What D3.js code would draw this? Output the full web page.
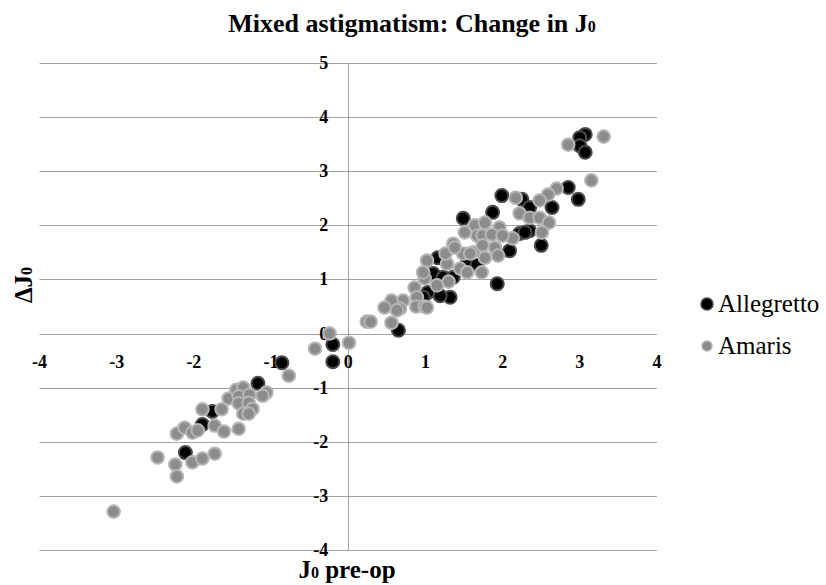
<!DOCTYPE html>
<html>
<head>
<meta charset="utf-8">
<script src="https://cdn.jsdelivr.net/npm/d3@7"></script>
<style>
  html, body { margin: 0; padding: 0; background: #fff; }
  svg { display: block; }
</style>
</head>
<body>
<svg id="chart" width="826" height="585" font-family="'Liberation Serif', 'Times New Roman', Times, serif"></svg>
<script>
// ---- Data ----
const seriesNames = ["Allegretto", "Amaris"];
const xTicks = [-4, -3, -2, -1, 0, 1, 2, 3, 4];
const yTicks = [-4, -3, -2, -1, 0, 1, 2, 3, 4, 5];

const allegretto = [
  [3.07, 3.68], [3.00, 3.62], [3.00, 3.47], [3.07, 3.35], [2.85, 2.70],
  [2.98, 2.48], [2.64, 2.33], [1.99, 2.55], [2.25, 2.48], [2.35, 2.33],
  [1.87, 2.24], [1.49, 2.13], [2.35, 1.90], [2.22, 1.85], [2.50, 1.63],
  [2.09, 1.53], [1.93, 0.92], [1.16, 1.40], [1.55, 1.33], [1.67, 1.28],
  [1.10, 1.11], [1.23, 1.04], [1.32, 0.67], [1.19, 0.70], [1.03, 0.76],
  [0.97, 0.67], [0.65, 0.06], [-0.20, -0.20], [-0.20, -0.52], [-0.86, -0.54],
  [-1.17, -0.92], [-1.32, -1.13], [-1.76, -1.44], [-1.89, -1.68], [-2.11, -2.20],
  [1.36, 1.04], [2.29, 1.87]
];

const amaris = [
  [2.85, 3.49], [3.31, 3.64], [3.15, 2.83], [2.70, 2.68], [2.59, 2.57],
  [2.48, 2.46], [2.17, 2.51], [2.22, 2.22], [2.35, 2.14], [2.48, 2.14],
  [2.60, 2.05], [2.51, 1.87], [2.13, 1.76], [1.51, 1.87], [1.64, 2.00],
  [1.77, 2.05], [1.96, 1.96], [1.67, 1.81], [1.74, 1.81], [1.86, 1.83],
  [2.00, 1.81], [1.36, 1.66], [1.49, 1.48], [1.62, 1.50], [1.74, 1.63],
  [1.90, 1.59], [1.77, 1.40], [1.94, 1.44], [1.28, 1.29], [1.45, 1.20],
  [1.73, 1.13], [1.54, 1.13], [1.30, 0.96], [1.15, 0.89], [0.99, 1.02],
  [1.02, 1.35], [0.97, 1.13], [0.86, 0.85], [0.89, 0.67], [0.88, 0.50],
  [0.99, 0.50], [0.71, 0.61], [0.67, 0.46], [0.56, 0.61], [0.47, 0.48],
  [0.63, 0.43], [0.56, 0.20], [0.24, 0.22], [0.29, 0.22], [1.26, 1.48],
  [1.38, 1.59], [1.58, 1.48], [1.02, 0.48], [-0.24, 0.00], [-0.43, -0.28],
  [0.01, -0.17], [-0.77, -0.78], [-1.55, -1.20], [-1.45, -1.04], [-1.36, -1.00],
  [-1.42, -1.16], [-1.28, -1.13], [-1.06, -1.09], [-1.11, -1.15], [-1.42, -1.29],
  [-1.29, -1.28], [-1.24, -1.39], [-1.36, -1.48], [-1.29, -1.48], [-1.42, -1.76],
  [-1.89, -1.40], [-1.64, -1.40], [-2.22, -1.85], [-2.12, -1.74], [-2.02, -1.83],
  [-1.95, -1.79], [-1.73, -1.70], [-1.61, -1.81], [-2.47, -2.29], [-2.24, -2.42],
  [-2.22, -2.64], [-2.02, -2.38], [-1.89, -2.31], [-1.73, -2.22], [-3.04, -3.29]
];

// ---- Layout ----
const svg = d3.select("#chart");
const x = d3.scaleLinear().domain([-4, 4]).range([39.5, 657]);
const y = d3.scaleLinear().domain([-4, 5]).range([550, 63]);

const gridColor = "#a3a3a3";

// horizontal gridlines
svg.append("g").selectAll("line").data(yTicks).join("line")
  .attr("x1", x(-4)).attr("x2", x(4))
  .attr("y1", d => Math.round(y(d)) + 0.5).attr("y2", d => Math.round(y(d)) + 0.5)
  .attr("stroke", gridColor).attr("stroke-width", 1);

// vertical axis line at x = 0
svg.append("line")
  .attr("x1", Math.round(x(0)) + 0.5).attr("x2", Math.round(x(0)) + 0.5)
  .attr("y1", y(5)).attr("y2", y(-4))
  .attr("stroke", gridColor).attr("stroke-width", 1);

// y tick labels
svg.append("g").selectAll("text").data(yTicks).join("text")
  .attr("x", x(0) - 20).attr("y", d => y(d) + 6)
  .attr("text-anchor", "end")
  .attr("font-size", 18).attr("font-weight", "bold")
  .text(d => d);

// x tick labels
svg.append("g").selectAll("text").data(xTicks).join("text")
  .attr("x", d => x(d)).attr("y", y(0) + 34)
  .attr("text-anchor", "middle")
  .attr("font-size", 18).attr("font-weight", "bold")
  .text(d => d);

// points
const styles = [
  { fill: "#000000", stroke: "#4a4a4a", r: 6.5 },
  { fill: "#8c8c8c", stroke: "#b5b5b5", r: 6.3 }
];
[allegretto, amaris].forEach((data, i) => {
  svg.append("g").selectAll("circle").data(data).join("circle")
    .attr("cx", d => x(d[0])).attr("cy", d => y(d[1]))
    .attr("r", styles[i].r)
    .attr("fill", styles[i].fill)
    .attr("stroke", styles[i].stroke)
    .attr("stroke-width", 2);
});

// title
const title = svg.append("text")
  .attr("x", 412).attr("y", 32)
  .attr("text-anchor", "middle")
  .attr("font-size", 26).attr("font-weight", "bold");
title.append("tspan").text("Mixed astigmatism: Change in J");
title.append("tspan").attr("font-size", 16).text("0");

// x axis title
const xt = svg.append("text")
  .attr("x", 347).attr("y", 578)
  .attr("text-anchor", "middle")
  .attr("font-size", 25).attr("font-weight", "bold");
xt.append("tspan").text("J");
xt.append("tspan").attr("font-size", 16).text("0");
xt.append("tspan").text(" pre-op");

// y axis title
const yt = svg.append("text")
  .attr("transform", "translate(32,285) rotate(-90)")
  .attr("text-anchor", "middle")
  .attr("font-size", 25).attr("font-weight", "bold");
yt.append("tspan").text("\u0394J");
yt.append("tspan").attr("font-size", 16).text("0");

// legend
const legend = svg.append("g");
const legendY = [304, 346];
seriesNames.forEach((name, i) => {
  legend.append("circle")
    .attr("cx", 707).attr("cy", legendY[i])
    .attr("r", i === 0 ? 6 : 5)
    .attr("fill", styles[i].fill)
    .attr("stroke", styles[i].stroke).attr("stroke-width", 1.5);
  legend.append("text")
    .attr("x", 718).attr("y", legendY[i] + 8)
    .attr("font-size", 25)
    .text(name);
});
</script>
</body>
</html>
